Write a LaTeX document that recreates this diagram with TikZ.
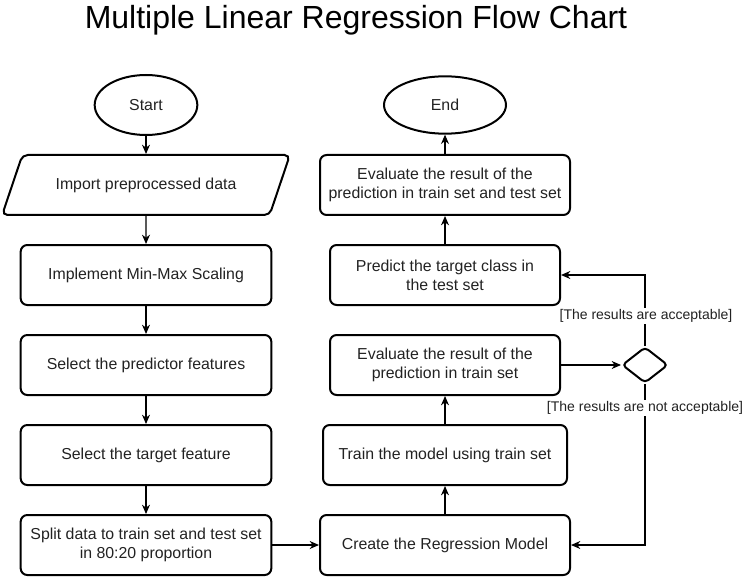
\documentclass[tikz,border=0pt]{standalone}
\usepackage{fontspec}
\setmainfont{Liberation Sans}
\usetikzlibrary{shapes.geometric,arrows.meta}
\definecolor{txt}{HTML}{222222}
\tikzset{
  every node/.style={font=\fontsize{11.9pt}{14.4pt}\selectfont, text=txt, align=center},
  box/.style={draw=black, line width=1.5pt, rounded corners=5pt, inner sep=2pt},
  term/.style={draw=black, line width=1.5pt, ellipse, inner sep=0pt},
  io/.style={draw=black, line width=1.5pt, trapezium, trapezium left angle=45, trapezium right angle=135,
     trapezium stretches=true, rounded corners=4pt, inner sep=0pt, minimum width=216pt, minimum height=45pt},
  dec/.style={draw=black, line width=1.5pt, diamond, rounded corners=3pt, inner sep=0pt, minimum width=34.5pt, minimum height=27pt},
  conn/.style={draw=black, line width=0.9pt, -{Stealth[length=7pt,width=6pt]}},
  lbl/.style={font=\fontsize{10.5pt}{12pt}\selectfont, fill=white, inner sep=1pt}
}
\begin{document}
\begin{tikzpicture}[x=0.75pt,y=-0.75pt]
\useasboundingbox (0,0) rectangle (745,577);
\node[font=\fontsize{24pt}{28pt}\selectfont, text=black] (title) at (356,20) {Multiple Linear Regression Flow Chart};
% left column
\node[term, minimum width=77pt, minimum height=45pt] (start) at (146,105) {Start};
\node[io] (imp) at (146,185) {Import preprocessed data};
\node[box, minimum width=188pt, minimum height=45pt] (mm) at (146,275) {Implement Min-Max Scaling};
\node[box, minimum width=188pt, minimum height=45pt] (pred) at (146,365) {Select the predictor features};
\node[box, minimum width=188pt, minimum height=45pt] (targ) at (146,455) {Select the target feature};
\node[box, minimum width=188pt, minimum height=45pt] (split) at (146,545) {Split data to train set and test set\\in 80:20 proportion};
% right column
\node[box, minimum width=187.5pt, minimum height=45pt] (create) at (445,545) {Create the Regression Model};
\node[box, minimum width=183pt, minimum height=45pt] (train) at (445,455) {Train the model using train set};
\node[box, minimum width=172.5pt, minimum height=45pt] (evtr) at (445,365) {Evaluate the result of the\\prediction in train set};
\node[box, minimum width=172.5pt, minimum height=45pt] (ptest) at (445,275) {Predict the target class in\\the test set};
\node[box, minimum width=187.5pt, minimum height=45pt] (evall) at (445,185) {Evaluate the result of the\\prediction in train set and test set};
\node[term, minimum width=91.5pt, minimum height=43pt] (end) at (445,105) {End};
\node[dec] (dia) at (645,365) {};
\coordinate (ctop) at (645,275);
\coordinate (cbot) at (645,545);
% connectors
\draw[conn] (start) -- (imp);
\draw[conn] (imp) -- (mm);
\draw[conn] (mm) -- (pred);
\draw[conn] (pred) -- (targ);
\draw[conn] (targ) -- (split);
\draw[conn] (split) -- (create);
\draw[conn] (create) -- (train);
\draw[conn] (train) -- (evtr);
\draw[conn] (evtr) -- (dia);
\draw[conn] (dia.north) -- (ctop) -- (ptest.east);
\draw[conn] (dia.south) -- (cbot) -- (create.east);
\draw[conn] (ptest) -- (evall);
\draw[conn] (evall) -- (end);
\node[lbl] (acc) at (646,316) {[The results are acceptable]};
\node[lbl] (nacc) at (645,408) {[The results are not acceptable]};
\end{tikzpicture}
\end{document}
